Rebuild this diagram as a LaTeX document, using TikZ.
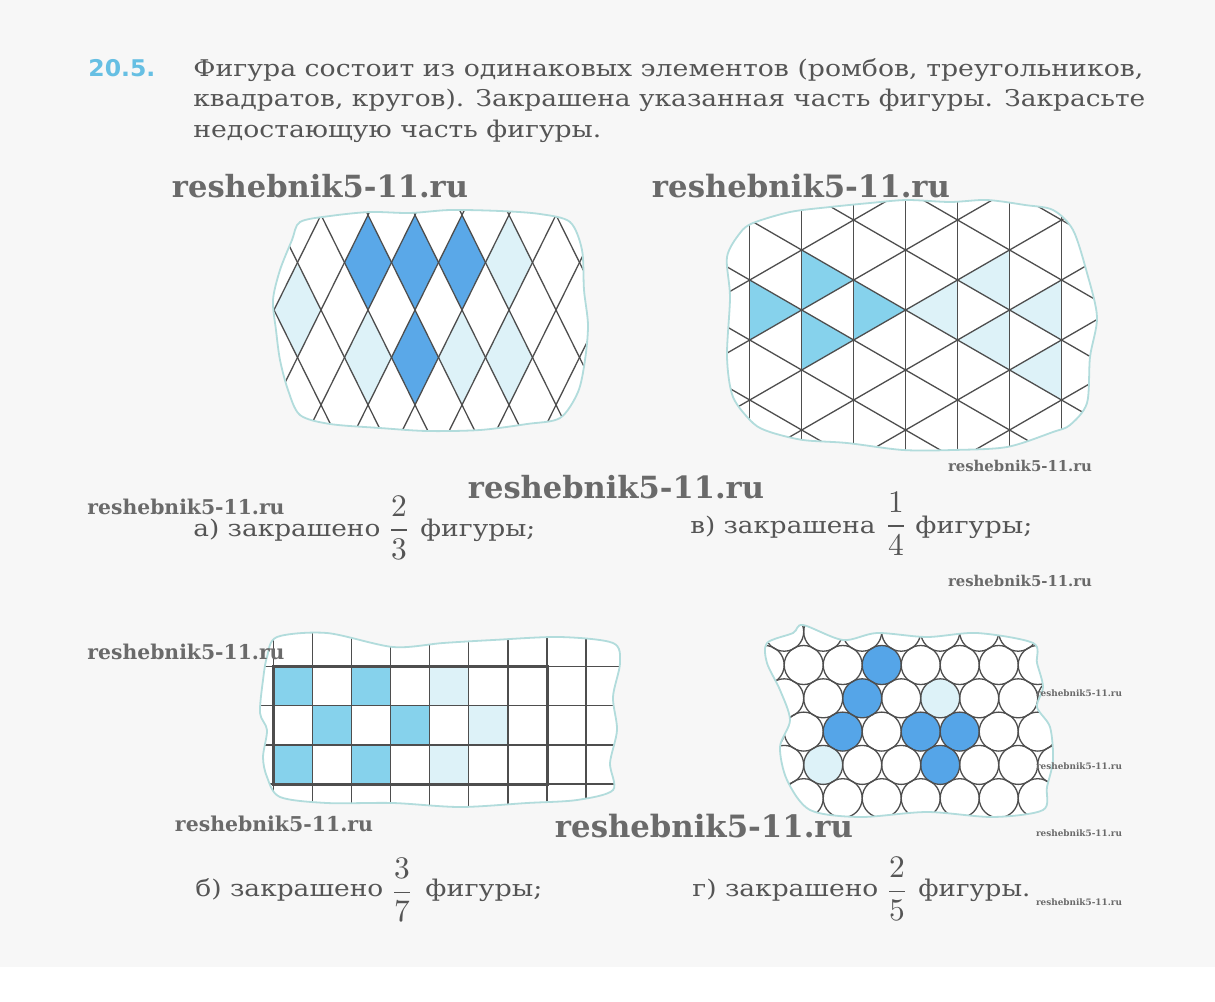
\documentclass[tikz,border=0pt]{standalone}
\usepackage{fontspec}
\setmainfont{DejaVu Serif}
\newfontfamily\numfont{DejaVu Sans}
\usepackage{graphicx}

\definecolor{paper}{HTML}{F7F7F7}
\definecolor{blobteal}{HTML}{B2DCDC}
\definecolor{gridgray}{HTML}{4E4E4E}
\definecolor{rhombblue}{HTML}{5AA8E8}
\definecolor{triblue}{HTML}{86D2EC}
\definecolor{circblue}{HTML}{55A5E8}
\definecolor{palecyan}{HTML}{DDF2F8}
\definecolor{textgray}{HTML}{555555}
\definecolor{markgray}{HTML}{6A6A6A}
\definecolor{numblue}{HTML}{66BFE3}

\tikzset{
  grid line/.style={draw=gridgray, line width=0.65pt},
  frame line/.style={draw=gridgray, line width=1.5pt},
  blob line/.style={draw=blobteal, line width=0.9pt},
  pale cell/.style={fill=palecyan},
  task text/.style={anchor=base west, inner sep=0pt, text=textgray,
    font=\fontsize{11.5}{14}\selectfont},
  frac text/.style={anchor=center, inner sep=0pt, text=textgray},
  mark text/.style={anchor=center, inner sep=0pt, text=markgray,
    font=\bfseries},
}

\newcommand{\wline}[2]{\resizebox{#1}{\height}{#2}}
\newcommand{\wmark}[1]{\resizebox{#1}{!}{reshebnik5-11.ru}}
\newcommand{\wfrac}[2]{\resizebox*{!}{31.5pt}{$\displaystyle\frac{#1}{#2}$}}

\begin{document}
\begin{tikzpicture}[x=0.5pt,y=-0.5pt]
\useasboundingbox (0,0) rectangle (1215,1001);
\fill[white] (0,0) rectangle (1215,1001);
\fill[paper] (0,0) rectangle (1215,967);

\def\blobA{plot[smooth cycle] coordinates {(292,240) (300,222) (330,216) (370,212)
  (410,213) (450,210) (500,211) (540,214) (570,222) (582,250) (584,290) (588,325)
  (585,360) (578,392) (560,418) (527,424) (480,430) (427,431) (380,428) (330,424)
  (300,415) (288,390) (280,360) (276,330) (273,300) (280,270)}}
\def\blobB{plot[smooth cycle] coordinates {(740,233) (753,223) (790,212) (830,207)
  (870,203) (907,200) (950,202) (987,200) (1025,205) (1053,210) (1073,230) (1087,273)
  (1097,317) (1090,357) (1087,403) (1070,425) (1053,432) (1007,447) (953,450)
  (903,450) (847,443) (803,440) (770,432) (753,423) (733,397) (727,357) (730,297)
  (727,257)}}
\def\blobC{plot[smooth cycle] coordinates {(267,657) (277,637) (327,633) (393,647)
  (443,643) (493,640) (560,637) (613,643) (620,663) (613,697) (617,730) (610,763)
  (613,790) (577,800) (527,803) (460,807) (393,803) (327,803) (280,797) (267,777)
  (263,757) (267,730) (260,713) (263,680)}}
\def\blobD{plot[smooth cycle] coordinates {(767,643) (793,633) (803,625) (843,640)
  (877,633) (927,637) (977,633) (1033,643) (1037,663) (1043,687) (1037,707)
  (1050,727) (1053,760) (1047,787) (1043,810) (993,817) (927,812) (860,817)
  (810,810) (787,780) (780,747) (790,720) (780,690) (767,663)}}

\fill[white] \blobA;
\fill[white] \blobB;
\fill[white] \blobC;
\fill[white] \blobD;

% rhombi
\begin{scope}
\clip \blobA;
\foreach \x/\y in {368/262.5,415/262.5,462/262.5,415/357.5}
  \fill[rhombblue] (\x,\y-47.5) -- (\x+23.5,\y) -- (\x,\y+47.5) -- (\x-23.5,\y) -- cycle;
\foreach \x/\y in {509/262.5,297.5/310,368/357.5,462/357.5,509/357.5}
  \fill[pale cell] (\x,\y-47.5) -- (\x+23.5,\y) -- (\x,\y+47.5) -- (\x-23.5,\y) -- cycle;
\foreach \k in {-6,...,9} {
  \draw[grid line] ({350.7+47*\k},180) -- ({484.3+47*\k},450);
  \draw[grid line] ({385.3+47*\k},180) -- ({251.7+47*\k},450);
}
\end{scope}
\draw[blob line] \blobA;

% triangles
\begin{scope}
\clip \blobB;
\foreach \x/\y/\d in {749.5/280/1,801.5/250/1,801.5/310/1,853.4/280/1}
  \fill[triblue] (\x,\y) -- (\x,\y+60) -- (\x+51.96*\d,\y+30) -- cycle;
\foreach \x/\y in {957.3/280,1009.3/250,1061.3/280,1009.3/310,1061.3/340}
  \fill[pale cell] (\x,\y) -- (\x,\y+60) -- (\x-51.96,\y+30) -- cycle;
\foreach \k in {-1,...,7}
  \draw[grid line] ({749.5+51.96*\k},180) -- ({749.5+51.96*\k},470);
\foreach \k in {-6,...,8} {
  \draw[grid line] (700,{191.28+60*\k}) -- (1150,{451.09+60*\k});
  \draw[grid line] (700,{308.72+60*\k}) -- (1150,{48.91+60*\k});
}
\end{scope}
\draw[blob line] \blobB;

% squares
\begin{scope}
\clip \blobC;
\foreach \c/\r in {0/0,2/0,1/1,3/1,0/2,2/2}
  \fill[triblue] ({273.3+39.1*\c},{666.7+39.1*\r}) rectangle +(39.1,39.1);
\foreach \c/\r in {4/0,5/1,4/2}
  \fill[pale cell] ({273.3+39.1*\c},{666.7+39.1*\r}) rectangle +(39.1,39.1);
\foreach \c in {0,...,8}
  \draw[grid line] ({273.3+39.1*\c},620) -- ({273.3+39.1*\c},820);
\foreach \r in {0,...,3}
  \draw[grid line] (250,{666.7+39.1*\r}) -- (630,{666.7+39.1*\r});
\draw[frame line] (273.3,666.7) rectangle (547,784);
\end{scope}
\draw[blob line] \blobC;

% circles
\begin{scope}
\clip \blobD;
\foreach \x/\y in {881.7/665,862.2/698.3,842.7/731.6,920.7/731.6,959.7/731.6,940.2/764.9}
  \fill[circblue] (\x,\y) circle[radius=9.75pt];
\foreach \x/\y in {940.2/698.3,823.2/764.9}
  \fill[pale cell] (\x,\y) circle[radius=9.75pt];
\foreach \r in {0,...,5}
  \foreach \k in {-3,...,5}
    \draw[grid line] ({862.2+19.5*mod(\r,2)+39*\k},{631.7+33.3*\r}) circle[radius=9.75pt];
\end{scope}
\draw[blob line] \blobD;

% task text
\node[anchor=base west, inner sep=0pt, text=numblue, font=\numfont\bfseries\fontsize{11.5}{14}\selectfont]
  (num) at (88,76) {\wline{33.5pt}{20.5.}};
\node[task text] (line1) at (193,76)
  {\wline{475pt}{Фигура состоит из одинаковых элементов (ромбов, треугольников,}};
\node[task text] (line2) at (193,106)
  {\wline{476pt}{квадратов, кругов). Закрашена указанная часть фигуры. Закрасьте}};
\node[task text] (line3) at (193,137) {\wline{204pt}{недостающую часть фигуры.}};

% labels
\node[task text] (capA) at (193,536) {\wline{93.5pt}{а) закрашено}};
\node[frac text] (fracA) at (399,528) {\wfrac{2}{3}};
\node[task text] (endA) at (420,536) {\wline{57.5pt}{фигуры;}};
\node[task text] (capV) at (690,533) {\wline{92.5pt}{в) закрашена}};
\node[frac text] (fracV) at (896,524) {\wfrac{1}{4}};
\node[task text] (endV) at (915,533) {\wline{58.5pt}{фигуры;}};
\node[task text] (capB) at (195,896) {\wline{94pt}{б) закрашено}};
\node[frac text] (fracB) at (402,890) {\wfrac{3}{7}};
\node[task text] (endB) at (425,896) {\wline{58.5pt}{фигуры;}};
\node[task text] (capG) at (692,896) {\wline{93pt}{г) закрашено}};
\node[frac text] (fracG) at (897,889) {\wfrac{2}{5}};
\node[task text] (endG) at (918,896) {\wline{56pt}{фигуры.}};

% site marks
\node[mark text] (markA) at (320,186) {\wmark{148pt}};
\node[mark text] (markB) at (801,186) {\wmark{149pt}};
\node[mark text] (markC) at (616,487) {\wmark{148pt}};
\node[mark text] (markD) at (704,826) {\wmark{149pt}};
\node[mark text] (markE) at (186,507) {\wmark{98.5pt}};
\node[mark text] (markF) at (186,652) {\wmark{98.5pt}};
\node[mark text] (markG) at (274,824) {\wmark{99pt}};
\node[mark text] (markH) at (1020,466) {\wmark{72pt}};
\node[mark text] (markI) at (1020,581) {\wmark{72pt}};
\node[mark text] (markJ) at (1079,693) {\wmark{43pt}};
\node[mark text] (markK) at (1079,766) {\wmark{43pt}};
\node[mark text] (markL) at (1079,833) {\wmark{43pt}};
\node[mark text] (markM) at (1079,902) {\wmark{43pt}};
\end{tikzpicture}
\end{document}
